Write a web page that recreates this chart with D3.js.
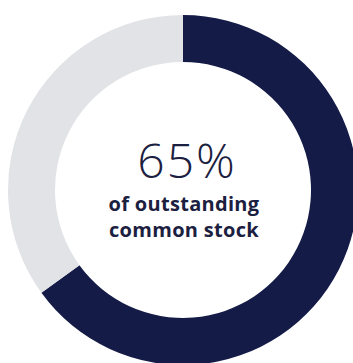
<!DOCTYPE html>
<html>
<head>
<meta charset="utf-8">
<script src="https://cdn.jsdelivr.net/npm/d3@7"></script>
<style>
  html, body { margin: 0; padding: 0; background: #fff; }
  svg { display: block; }
</style>
</head>
<body>
<svg width="353" height="363"></svg>
<script>
const categories = ["Held", "Other"];
const values = [65, 35];
const colors = ["#141b47", "#e2e3e6"];
const bigLabel = "65%";
const subLabels = ["of outstanding", "common stock"];

const svg = d3.select("svg");
const cx = 183, cy = 190;
const outerR = 175, innerR = 128;

const pie = d3.pie().sort(null).value(d => d.value);
const arc = d3.arc().innerRadius(innerR).outerRadius(outerR);

const data = categories.map((c, i) => ({ name: c, value: values[i] }));

const g = svg.append("g").attr("transform", `translate(${cx},${cy})`);

g.selectAll("path")
  .data(pie(data))
  .enter()
  .append("path")
  .attr("d", arc)
  .attr("fill", (d, i) => colors[i]);

// Center text
g.append("text")
  .attr("x", 4)
  .attr("y", -12)
  .attr("text-anchor", "middle")
  .attr("font-family", "Open Sans")
  .attr("font-weight", 300)
  .attr("font-size", 48)
  .attr("letter-spacing", 2)
  .attr("fill", "#1c2040")
  .text(bigLabel);

g.selectAll(".sub")
  .data(subLabels)
  .enter()
  .append("text")
  .attr("class", "sub")
  .attr("x", 1)
  .attr("y", (d, i) => 21 + i * 26)
  .attr("text-anchor", "middle")
  .attr("font-family", "Open Sans")
  .attr("font-weight", 700)
  .attr("font-size", 20)
  .attr("letter-spacing", 0.3)
  .attr("fill", "#1c2040")
  .text(d => d);
</script>
</body>
</html>
